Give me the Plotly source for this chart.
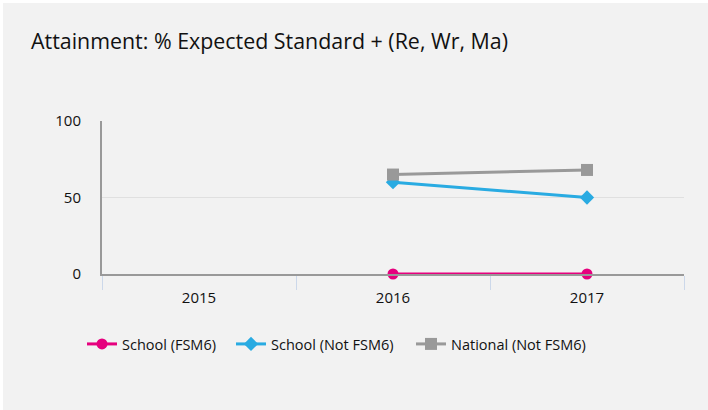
import plotly.graph_objects as go

years = ["2015", "2016", "2017"]
school_fsm6 = [None, 0, 0]
school_not_fsm6 = [None, 60, 50]
national_not_fsm6 = [None, 65, 68]
y_ticks = [0, 50, 100]

W, H = 708, 410
L, R, T, B = 102, 24, 121, 136
pw, ph = W - L - R, H - T - B
BG = "#f2f2f2"
FONT = "'Open Sans', sans-serif"

fig = go.Figure()
fig.add_trace(go.Scatter(x=years, y=school_fsm6, name="School (FSM6)", mode="lines+markers",
                         line=dict(color="#e6007e", width=3),
                         marker=dict(symbol="circle", size=11, color="#e6007e"),
                         cliponaxis=False, legend="legend"))
fig.add_trace(go.Scatter(x=years, y=school_not_fsm6, name="School (Not FSM6)", mode="lines+markers",
                         line=dict(color="#29abe2", width=3),
                         marker=dict(symbol="diamond", size=11, color="#29abe2"),
                         cliponaxis=False, legend="legend2"))
fig.add_trace(go.Scatter(x=years, y=national_not_fsm6, name="National (Not FSM6)", mode="lines+markers",
                         line=dict(color="#999999", width=3),
                         marker=dict(symbol="square", size=12, color="#999999"),
                         cliponaxis=False, legend="legend3"))

fig.add_shape(type="rect", xref="paper", yref="paper", layer="below",
              x0=(3 - L) / pw, x1=(W + 5 - L) / pw,
              y0=-(H + 5 - T - ph) / ph, y1=(T - 3) / ph + 1,
              fillcolor=BG, line=dict(width=0))


def legend_at(xpx):
    return dict(orientation="h", x=(xpx - L) / pw, xanchor="left",
                y=-(344 - T - ph) / ph, yanchor="middle",
                bgcolor="rgba(0,0,0,0)", font=dict(size=14.5, color="#111111"), itemwidth=30)


fig.update_layout(
    width=W, height=H,
    margin=dict(l=L, r=R, t=T, b=B),
    paper_bgcolor="white", plot_bgcolor=BG,
    font=dict(family=FONT, size=13, color="#111111"),
    title=dict(text="Attainment: % Expected Standard + (Re, Wr, Ma)",
               x=31 / W, xanchor="left", xref="container",
               y=1 - 42 / H, yanchor="middle", yref="container",
               font=dict(size=21.4, color="#111111", family=FONT)),
    xaxis=dict(type="category", categoryorder="array", categoryarray=years,
               range=[-0.5, 2.5], showline=True, linecolor="#999999", linewidth=2,
               ticks="outside", tickson="boundaries", ticklen=14, tickcolor="#ccd8ea",
               tickwidth=1, showgrid=False, tickfont=dict(size=15, color="#111111"),
               ticklabelstandoff=9),
    yaxis=dict(range=[0, 100], tickvals=y_ticks, showline=True, linecolor="#999999",
               linewidth=2, gridcolor="#e0e0e0", gridwidth=1, zeroline=False,
               ticks="", ticklabelstandoff=16, tickfont=dict(size=15, color="#111111")),
    legend=legend_at(82),
    legend2=legend_at(231),
    legend3=legend_at(411),
    showlegend=True,
)

fig.write_html("out.html", post_script="document.body.style.margin='0';",
               config={"displayModeBar": False})
